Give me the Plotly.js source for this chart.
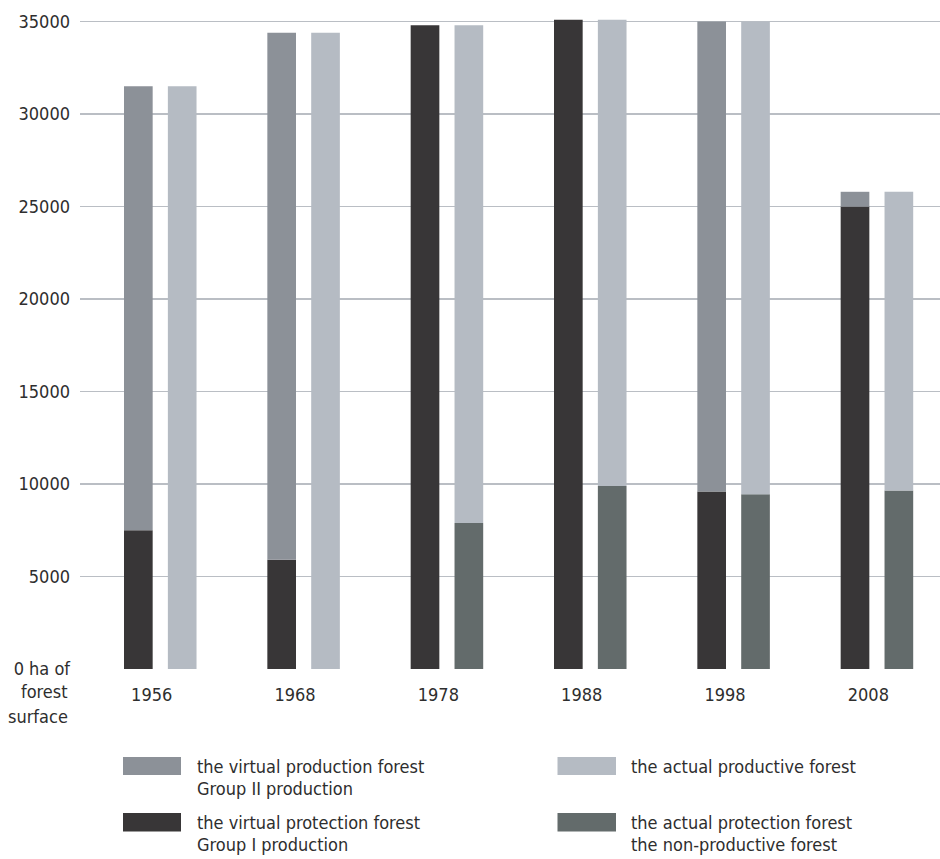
<!DOCTYPE html>
<html>
<head>
<meta charset="utf-8">
<script src="https://cdn.plot.ly/plotly-3.0.1.min.js"></script>
<style>
  html, body { margin: 0; padding: 0; background: #ffffff; }
  #chart { width: 940px; height: 859px; }
</style>
</head>
<body>
<div id="chart"></div>
<script>
// ---- data ----
const years = ['1956', '1968', '1978', '1988', '1998', '2008'];
const virtualProtection = [7500, 5900, 34800, 35100, 9600, 25000];
const virtualTotal = [31500, 34400, 34800, 35100, 35000, 25800];
const actualProtection = [0, 0, 7900, 9900, 9450, 9650];
const actualTotal = [31500, 34400, 34800, 35100, 35000, 25800];
const yTickVals = [0, 5000, 10000, 15000, 20000, 25000, 30000, 35000];
const yTickText = ['0 ha of', '5000', '10000', '15000', '20000', '25000', '30000', '35000'];
const yUnitLines = ['forest', 'surface'];
const seriesNames = {
  virtualProduction: ['the virtual production forest', 'Group II production'],
  virtualProtection: ['the virtual protection forest', 'Group I production'],
  actualProductive: ['the actual productive forest'],
  actualProtection: ['the actual protection forest', 'the non-productive forest']
};

// ---- styles ----
const C = {
  virtualProduction: '#8c9198',
  virtualProtection: '#383637',
  actualProductive: '#b5bbc3',
  actualProtection: '#636b6b',
  grid: '#babec4',
  text: '#2e2e2e'
};
const FONT = '"DejaVu Sans Condensed", "DejaVu Sans", sans-serif';
const FS = 18;

const W = 940, H = 859;
const M = { l: 80, r: 0, t: 17, b: 190 };
const plotW = W - M.l - M.r, plotH = H - M.t - M.b;
const px2x = p => (p - M.l) / plotW;
const px2y = p => (H - M.b - p) / plotH;

const diff = (a, b) => a.map((v, i) => v - b[i]);

const vOff = -0.193, aOff = 0.113, bw = 0.2;

const traces = [
  { type: 'bar', x: years, y: virtualProtection, offset: vOff, width: bw,
    marker: { color: C.virtualProtection, line: { width: 0 } } },
  { type: 'bar', x: years, y: diff(virtualTotal, virtualProtection), base: virtualProtection,
    offset: vOff, width: bw, marker: { color: C.virtualProduction, line: { width: 0 } } },
  { type: 'bar', x: years, y: actualProtection, offset: aOff, width: bw,
    marker: { color: C.actualProtection, line: { width: 0 } } },
  { type: 'bar', x: years, y: diff(actualTotal, actualProtection), base: actualProtection,
    offset: aOff, width: bw, marker: { color: C.actualProductive, line: { width: 0 } } }
];

// ---- manual legend (wide swatches) ----
const shapes = [];
const annotations = [];
const legendItems = [
  { key: 'virtualProduction', sx0: 123, sx1: 181, sy0: 757, sy1: 775, tx: 195, ty: [766.5, 788.5] },
  { key: 'virtualProtection', sx0: 123, sx1: 181, sy0: 813, sy1: 831.5, tx: 195, ty: [822.5, 844.5] },
  { key: 'actualProductive', sx0: 557.5, sx1: 616, sy0: 757, sy1: 775, tx: 628.5, ty: [766.5, 788.5] },
  { key: 'actualProtection', sx0: 557.5, sx1: 616, sy0: 813, sy1: 831.5, tx: 628.5, ty: [822.5, 844.5] }
];
legendItems.forEach(it => {
  shapes.push({ type: 'rect', xref: 'paper', yref: 'paper',
    x0: px2x(it.sx0), x1: px2x(it.sx1), y0: px2y(it.sy1), y1: px2y(it.sy0),
    fillcolor: C[it.key], line: { width: 0 } });
  seriesNames[it.key].forEach((line, i) => {
    annotations.push({ xref: 'paper', yref: 'paper', x: px2x(it.tx), y: px2y(it.ty[i]),
      xanchor: 'left', yanchor: 'middle', showarrow: false, text: line,
      font: { family: FONT, size: FS, color: C.text } });
  });
});
// y unit label continuation
yUnitLines.forEach((line, i) => {
  annotations.push({ xref: 'paper', yref: 'paper', x: px2x(70), y: px2y(692 + i * 24),
    xanchor: 'right', yanchor: 'middle', showarrow: false, text: line,
    font: { family: FONT, size: FS, color: C.text } });
});

const layout = {
  width: W, height: H,
  margin: M,
  paper_bgcolor: '#ffffff', plot_bgcolor: '#ffffff',
  barmode: 'overlay',
  showlegend: false,
  font: { family: FONT, size: FS, color: C.text },
  xaxis: {
    type: 'category', range: [-0.5, 5.5], showgrid: false, zeroline: false,
    showline: false, ticks: '', ticklabelstandoff: 13,
    tickfont: { family: FONT, size: FS, color: C.text }
  },
  yaxis: {
    range: [0, 35250], tickvals: yTickVals, ticktext: yTickText,
    showgrid: true, gridcolor: C.grid, gridwidth: 1.5, zeroline: false,
    showline: false, ticks: '', ticklabelstandoff: 9,
    tickfont: { family: FONT, size: FS, color: C.text }
  },
  shapes: shapes,
  annotations: annotations
};

Plotly.newPlot('chart', traces, layout, { staticPlot: true, displayModeBar: false });
</script>
</body>
</html>
